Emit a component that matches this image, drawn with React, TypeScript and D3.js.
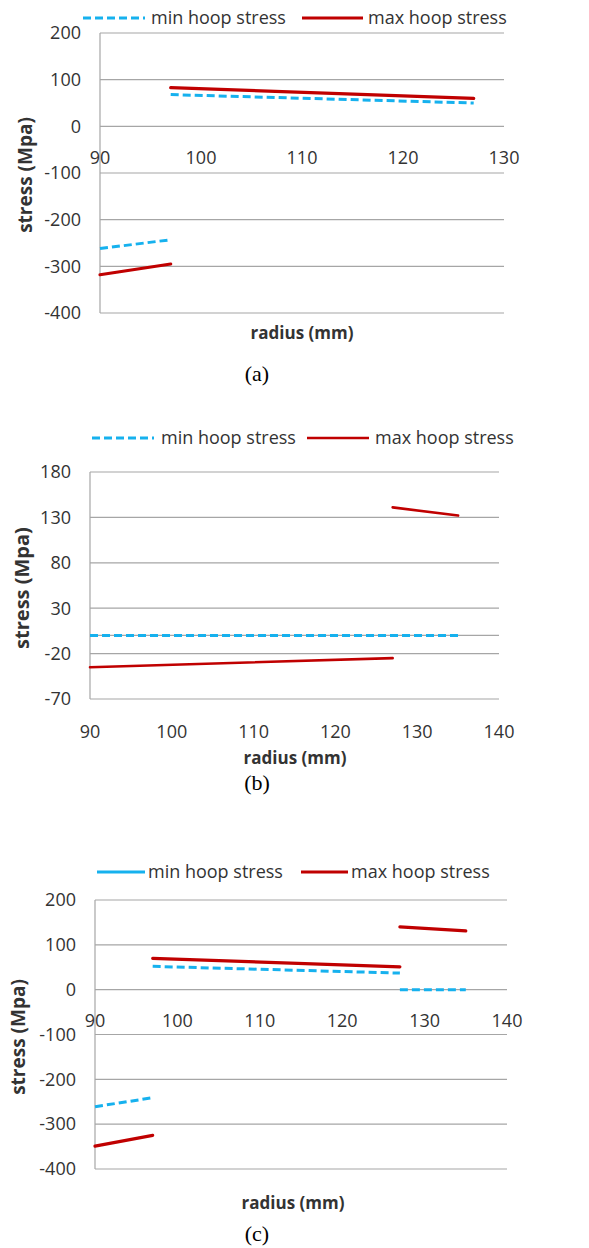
import * as d3 from "d3";
import { useEffect, useRef } from "react";

// panel (a)
const xTicksA = [90, 100, 110, 120, 130];
const yTicksA = [200, 100, 0, -100, -200, -300, -400];
const minA = [
  [[90, -262], [97, -243]],
  [[97, 68], [127, 50]],
];
const maxA = [
  [[90, -318], [97, -295]],
  [[97, 83], [127, 60]],
];

// panel (b)
const xTicksB = [90, 100, 110, 120, 130, 140];
const yTicksB = [180, 130, 80, 30, -20, -70];
const minB = [[[90, 0], [135, 0]]];
const maxB = [
  [[90, -35], [127, -25]],
  [[127, 141], [135, 132]],
];

// panel (c)
const xTicksC = [90, 100, 110, 120, 130, 140];
const yTicksC = [200, 100, 0, -100, -200, -300, -400];
const minC = [
  [[90, -261], [97, -241]],
  [[97, 52], [127, 37]],
  [[127, 0], [135, 0]],
];
const maxC = [
  [[90, -349], [97, -325]],
  [[97, 70], [127, 51]],
  [[127, 140], [135, 131]],
];

const legendLabels = ["min hoop stress", "max hoop stress"];
const captions = ["(a)", "(b)", "(c)"];

const BLUE = "#16b1ee";
const RED = "#c00000";
const GRID = "#a6a6a6";
const TEXT = "#333";
const FONT = "'Open Sans', sans-serif";

function drawPanel(svg, p) {
  const g = svg.append("g");
  const x = d3.scaleLinear().domain(p.xDomain).range([p.x0, p.x1]);
  const y = d3.scaleLinear().domain(p.yDomain).range([p.y1, p.y0]);

  // gridlines
  g.selectAll("line.grid")
    .data(p.yTicks)
    .join("line")
    .attr("x1", p.x0)
    .attr("x2", p.x1)
    .attr("y1", (d) => y(d))
    .attr("y2", (d) => y(d))
    .attr("stroke", GRID)
    .attr("stroke-width", 1.2);

  if (p.zeroLine) {
    g.append("line")
      .attr("x1", p.x0)
      .attr("x2", p.x1)
      .attr("y1", y(0))
      .attr("y2", y(0))
      .attr("stroke", GRID)
      .attr("stroke-width", 1.2);
  }

  g.append("line")
    .attr("x1", p.x0)
    .attr("x2", p.x0)
    .attr("y1", p.y0)
    .attr("y2", p.y1)
    .attr("stroke", GRID)
    .attr("stroke-width", 1.2);

  // y tick labels
  g.selectAll("text.ytick")
    .data(p.yTicks)
    .join("text")
    .attr("x", p.x0 - 19)
    .attr("y", (d) => y(d))
    .attr("dy", "0.35em")
    .attr("text-anchor", "end")
    .attr("font-size", 18)
    .attr("font-family", FONT)
    .attr("fill", TEXT)
    .text((d) => d);

  // x tick labels
  const xLabelY = p.xLabelsAtBottom ? p.y1 + 33 : y(0) + 31;
  g.selectAll("text.xtick")
    .data(p.xTicks)
    .join("text")
    .attr("x", (d) => x(d))
    .attr("y", xLabelY)
    .attr("dy", "0.35em")
    .attr("text-anchor", "middle")
    .attr("font-size", 18)
    .attr("font-family", FONT)
    .attr("fill", TEXT)
    .text((d) => d);

  const line = d3
    .line()
    .x((d) => x(d[0]))
    .y((d) => y(d[1]));

  g.selectAll("path.min")
    .data(p.minData)
    .join("path")
    .attr("d", line)
    .attr("fill", "none")
    .attr("stroke", BLUE)
    .attr("stroke-width", 3)
    .attr("stroke-dasharray", "8,4");

  g.selectAll("path.max")
    .data(p.maxData)
    .join("path")
    .attr("d", line)
    .attr("fill", "none")
    .attr("stroke", RED)
    .attr("stroke-width", p.redWidth)
    .attr("stroke-linecap", "round");

  // legend
  const lg = p.legend;
  g.append("line")
    .attr("x1", lg.l1[0])
    .attr("x2", lg.l1[1])
    .attr("y1", lg.y)
    .attr("y2", lg.y)
    .attr("stroke", BLUE)
    .attr("stroke-width", 3)
    .attr("stroke-dasharray", lg.solidMin ? null : "8,4");
  g.append("line")
    .attr("x1", lg.l2[0])
    .attr("x2", lg.l2[1])
    .attr("y1", lg.y)
    .attr("y2", lg.y)
    .attr("stroke", RED)
    .attr("stroke-width", p.redWidth);
  [lg.t1, lg.t2].forEach((tx, i) => {
    g.append("text")
      .attr("x", tx)
      .attr("y", lg.y)
      .attr("dy", "0.32em")
      .attr("font-size", 18)
      .attr("font-family", FONT)
      .attr("fill", TEXT)
      .text(legendLabels[i]);
  });

  // axis titles
  g.append("text")
    .attr("transform", `translate(${p.yTitle[0]},${p.yTitle[1]}) rotate(-90)`)
    .attr("dy", "0.35em")
    .attr("text-anchor", "middle")
    .attr("font-size", p.yTitleSize)
    .attr("font-weight", "bold")
    .attr("font-family", FONT)
    .attr("fill", TEXT)
    .text("stress (Mpa)");

  g.append("text")
    .attr("x", p.xTitle[0])
    .attr("y", p.xTitle[1])
    .attr("dy", "0.35em")
    .attr("text-anchor", "middle")
    .attr("font-size", 17)
    .attr("font-weight", "bold")
    .attr("font-family", FONT)
    .attr("fill", TEXT)
    .text("radius (mm)");

  g.append("text")
    .attr("x", 257)
    .attr("y", p.caption)
    .attr("dy", "0.35em")
    .attr("text-anchor", "middle")
    .attr("font-size", 22)
    .attr("font-family", "'Liberation Serif', 'Times New Roman', serif")
    .attr("fill", "#000")
    .text(p.captionText);
}

export default function App() {
  const ref = useRef(null);

  useEffect(() => {
    const svg = d3.select(ref.current);
    svg.selectAll("*").remove();
    svg.append("rect").attr("width", 589).attr("height", 1248).attr("fill", "#fff");

    drawPanel(svg, {
      x0: 100, x1: 504, y0: 33, y1: 313,
      xDomain: [90, 130], yDomain: [-400, 200],
      xTicks: xTicksA, yTicks: yTicksA,
      minData: minA, maxData: maxA, redWidth: 3.2,
      legend: { y: 18, l1: [83, 145], t1: 151, l2: [302, 363], t2: 368 },
      yTitle: [25, 175], yTitleSize: 19, xTitle: [302, 333], caption: 373, captionText: captions[0],
    });

    drawPanel(svg, {
      x0: 90, x1: 499, y0: 472, y1: 699,
      xDomain: [90, 140], yDomain: [-70, 180],
      xTicks: xTicksB, yTicks: yTicksB, zeroLine: true, xLabelsAtBottom: true,
      minData: minB, maxData: maxB, redWidth: 2.6,
      legend: { y: 438, l1: [92, 154], t1: 161, l2: [307, 369], t2: 375 },
      yTitle: [22, 588], yTitleSize: 20, xTitle: [295, 758], caption: 782, captionText: captions[1],
    });

    drawPanel(svg, {
      x0: 95, x1: 507, y0: 900, y1: 1169,
      xDomain: [90, 140], yDomain: [-400, 200],
      xTicks: xTicksC, yTicks: yTicksC,
      minData: minC, maxData: maxC, redWidth: 3.2,
      legend: { y: 872, l1: [97, 145], t1: 148, l2: [301, 348], t2: 351, solidMin: true },
      yTitle: [18, 1037], yTitleSize: 19, xTitle: [293, 1203], caption: 1233, captionText: captions[2],
    });
  }, []);

  return (
    <svg
      ref={ref}
      width={589}
      height={1248}
      style={{ position: "absolute", left: 0, top: 0, display: "block" }}
    />
  );
}
